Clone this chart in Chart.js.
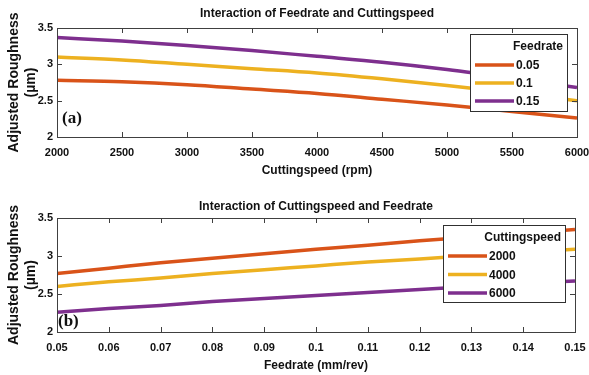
<!DOCTYPE html>
<html><head><meta charset="utf-8">
<script src="https://cdn.jsdelivr.net/npm/chart.js@4"></script>
<style>
html,body{margin:0;padding:0;background:#fff;width:589px;height:375px;overflow:hidden;}
.wrap{position:absolute;left:0;width:589px;}
#w1{top:0;height:185px;}
#w2{top:185px;height:190px;}
</style></head><body>
<div class="wrap" id="w1"><canvas id="c1"></canvas></div>
<div class="wrap" id="w2"><canvas id="c2"></canvas></div>
<script>
// ---- data ----
const cuttingSpeeds = [2000, 2500, 3000, 3500, 4000, 4500, 5000, 5500, 6000];
const roughFeed005 = [2.78, 2.76, 2.72, 2.66, 2.60, 2.52, 2.44, 2.35, 2.26];
const roughFeed010 = [3.10, 3.06, 3.00, 2.94, 2.88, 2.80, 2.71, 2.61, 2.50];
const roughFeed015 = [3.37, 3.32, 3.26, 3.19, 3.11, 3.03, 2.93, 2.81, 2.68];

const feedRates = [0.05, 0.06, 0.07, 0.08, 0.09, 0.10, 0.11, 0.12, 0.13, 0.14, 0.15];
const roughSpeed2000 = [2.77, 2.84, 2.91, 2.97, 3.03, 3.09, 3.14, 3.20, 3.25, 3.30, 3.35];
const roughSpeed4000 = [2.60, 2.66, 2.71, 2.77, 2.82, 2.87, 2.92, 2.96, 3.01, 3.05, 3.09];
const roughSpeed6000 = [2.26, 2.31, 2.35, 2.40, 2.44, 2.48, 2.52, 2.56, 2.60, 2.64, 2.67];

const speedTicks = [2000, 2500, 3000, 3500, 4000, 4500, 5000, 5500, 6000];
const feedTicks = [0.05, 0.06, 0.07, 0.08, 0.09, 0.1, 0.11, 0.12, 0.13, 0.14, 0.15];
const roughTicks = [2, 2.5, 3, 3.5];

const feedLabels = ['0.05', '0.1', '0.15'];
const speedLabels = ['2000', '4000', '6000'];

// ---- styling ----
const COLORS = ['#D95319', '#EDB120', '#7E2F8E'];
const SANS = '"Liberation Sans",Arial,sans-serif';
const SERIF = '"Liberation Serif","Times New Roman",serif';
const AXIS_COLOR = '#404040';

const toXY = (xs, ys) => xs.map((x, i) => ({x: x, y: ys[i]}));

// title, frame, inward ticks, legend box, panel letter
const decorPlugin = {
  id: 'decor',
  afterDraw(chart, args, opts) {
    const ctx = chart.ctx, a = chart.chartArea;
    const xs = chart.scales.x, ys = chart.scales.y;
    ctx.save();

    // title centred over the plot area
    ctx.fillStyle = '#111';
    ctx.font = 'bold 12px ' + SANS;
    ctx.textAlign = 'center';
    ctx.textBaseline = 'middle';
    ctx.fillText(opts.title, (a.left + a.right) / 2, opts.titleY);

    ctx.strokeStyle = AXIS_COLOR;
    ctx.lineWidth = 1;
    ctx.beginPath();
    xs.ticks.forEach(t => {
      const px = Math.round(xs.getPixelForValue(t.value)) + 0.5;
      ctx.moveTo(px, a.bottom); ctx.lineTo(px, a.bottom - 5);
      ctx.moveTo(px, a.top); ctx.lineTo(px, a.top + 5);
    });
    ys.ticks.forEach(t => {
      const py = Math.round(ys.getPixelForValue(t.value)) + 0.5;
      ctx.moveTo(a.left, py); ctx.lineTo(a.left + 5, py);
      ctx.moveTo(a.right, py); ctx.lineTo(a.right - 5, py);
    });
    ctx.stroke();
    ctx.strokeRect(Math.round(a.left) + 0.5, Math.round(a.top) + 0.5,
                   Math.round(a.right - a.left), Math.round(a.bottom - a.top));

    // legend box
    const L = opts.legend;
    const bx = Math.round(a.right - L.rightInset - L.width), by = Math.round(a.top + L.topInset);
    ctx.fillStyle = '#fff';
    ctx.fillRect(bx, by, L.width, L.height);
    ctx.strokeStyle = '#303030';
    ctx.strokeRect(bx + 0.5, by + 0.5, L.width, L.height);
    ctx.fillStyle = '#111';
    ctx.font = 'bold 12px ' + SANS;
    ctx.textBaseline = 'middle';
    ctx.textAlign = 'right';
    ctx.fillText(L.title, bx + L.width - 4, by + 13);
    ctx.textAlign = 'left';
    chart.data.datasets.forEach((ds, i) => {
      const ry = by + L.firstRow + i * L.rowH;
      ctx.strokeStyle = ds.borderColor;
      ctx.lineWidth = 3.5;
      ctx.beginPath();
      ctx.moveTo(bx + 5, ry); ctx.lineTo(bx + 5 + L.lineLen, ry);
      ctx.stroke();
      ctx.fillText(ds.label, bx + 7 + L.lineLen, ry + 1);
    });

    // panel letter
    ctx.font = 'bold 17px ' + SERIF;
    ctx.textAlign = 'left';
    ctx.fillStyle = '#111';
    ctx.fillText(opts.letter, a.left + opts.letterDx, a.bottom - opts.letterDy);
    ctx.restore();
  }
};

function makeChart(id, cfg) {
  return new Chart(document.getElementById(id), {
    type: 'line',
    data: {
      datasets: cfg.series.map((s, i) => ({
        label: cfg.labels[i],
        data: toXY(cfg.xs, s),
        borderColor: COLORS[i],
        backgroundColor: COLORS[i],
        borderWidth: 3.5,
        pointRadius: 0,
        cubicInterpolationMode: 'monotone',
        fill: false
      }))
    },
    options: {
      responsive: true,
      maintainAspectRatio: false,
      animation: false,
      layout: {padding: {left: 0, right: 0, top: cfg.padTop, bottom: 0}},
      plugins: {
        legend: {display: false},
        tooltip: {enabled: false},
        title: {display: false},
        decor: {title: cfg.title, titleY: cfg.titleY, legend: cfg.legend,
                letter: cfg.letter, letterDx: cfg.letterDx, letterDy: cfg.letterDy}
      },
      scales: {
        x: {
          type: 'linear',
          min: cfg.xs[0], max: cfg.xs[cfg.xs.length - 1],
          afterBuildTicks: s => { s.ticks = cfg.xTicks.map(v => ({value: v})); },
          afterFit: s => { s.height = cfg.xAxisH; s.paddingLeft = 0; s.paddingRight = cfg.padRight; },
          grid: {display: false, drawTicks: false},
          border: {display: false},
          ticks: {
            color: '#111', padding: cfg.xTickPad, maxRotation: 0, autoSkip: false,
            font: {family: SANS, size: 11, weight: 'bold'},
            callback: v => String(v)
          },
          title: {
            display: true, text: cfg.xTitle, color: '#111',
            font: {family: SANS, size: 12, weight: 'bold', lineHeight: 1.2},
            padding: {top: 0, bottom: cfg.xTitleBottom}
          }
        },
        y: {
          min: 2, max: 3.5,
          afterBuildTicks: s => { s.ticks = roughTicks.map(v => ({value: v})); },
          afterFit: s => { s.width = 57; s.paddingTop = 0; s.paddingBottom = 0; },
          grid: {display: false, drawTicks: false},
          border: {display: false},
          ticks: {
            color: '#111', padding: 4,
            font: {family: SANS, size: 11, weight: 'bold'},
            callback: v => String(v)
          },
          title: {
            display: true, text: ['Adjusted Roughness', '(\u00b5m)'], color: '#111',
            font: {family: SANS, size: 14, weight: 'bold', lineHeight: 1.22},
            padding: {top: 6, bottom: 0}
          }
        }
      }
    },
    plugins: [decorPlugin]
  });
}

makeChart('c1', {
  xs: cuttingSpeeds,
  series: [roughFeed005, roughFeed010, roughFeed015],
  labels: feedLabels,
  xTicks: speedTicks,
  title: 'Interaction of Feedrate and Cuttingspeed',
  padTop: 28, titleY: 14,
  xTitle: 'Cuttingspeed (rpm)',
  xAxisH: 48, xTickPad: 9, xTitleBottom: 7,
  padRight: 12,
  legend: {title: 'Feedrate', width: 97, height: 77, rightInset: 10, topInset: 6, firstRow: 31, rowH: 18, lineLen: 39},
  letter: '(a)', letterDx: 5, letterDy: 18
});

makeChart('c2', {
  xs: feedRates,
  series: [roughSpeed2000, roughSpeed4000, roughSpeed6000],
  labels: speedLabels,
  xTicks: feedTicks,
  title: 'Interaction of Cuttingspeed and Feedrate',
  padTop: 33, titleY: 22,
  xTitle: 'Feedrate (mm/rev)',
  xAxisH: 43, xTickPad: 9, xTitleBottom: 2,
  padRight: 14,
  legend: {title: 'Cuttingspeed', width: 122, height: 77, rightInset: 10, topInset: 7, firstRow: 31, rowH: 18.5, lineLen: 39},
  letter: '(b)', letterDx: 1, letterDy: 10
});
</script>
</body></html>
